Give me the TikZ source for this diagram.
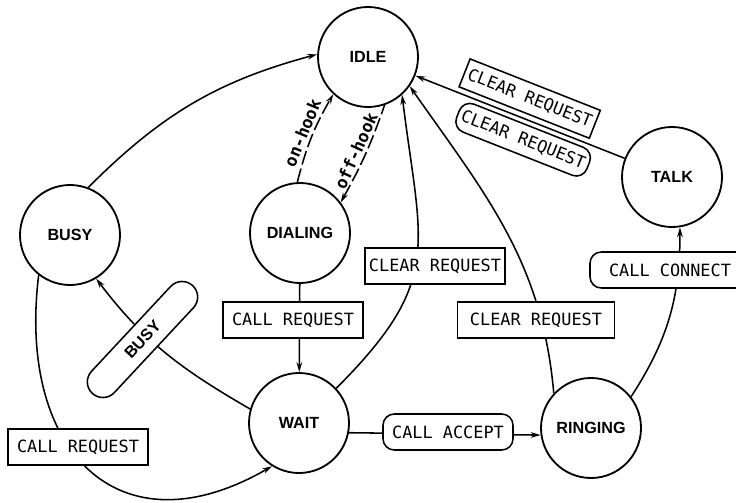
\documentclass[tikz,border=0pt]{standalone}
\usepackage{fontspec}
\setmainfont{Liberation Sans}
\setmonofont{DejaVu Sans Mono}
\usepackage{tikz}
\usetikzlibrary{arrows.meta}

\begin{document}
\begin{tikzpicture}[
    stnode/.style={draw, circle, line width=1.3pt, minimum size=2.5cm, font=\fontsize{11.5}{13}\selectfont\bfseries},
    lbl/.style={draw, fill=white, line width=1.1pt, minimum width=3.5cm, minimum height=0.9cm, inner sep=2pt, font=\fontsize{12}{14}\selectfont\ttfamily},
    rlbl/.style={lbl, rounded corners=8pt},
    conn/.style={line width=1.1pt, -{Stealth[length=7pt, width=4pt]}},
    rconn/.style={line width=1.1pt, {Stealth[length=7pt, width=4pt]}-},
    hooktext/.style={sloped, above=1pt, inner sep=1pt, font=\fontsize{12}{14}\selectfont\ttfamily\bfseries}
]
    \useasboundingbox (0,0) rectangle (18.4,12.55);
    \node[stnode] (idle) at (9.2,11.125) {IDLE};
    \node[stnode] (busy) at (1.75,6.675) {BUSY};
    \node[stnode] (dialing) at (7.5,6.725) {DIALING};
    \node[stnode] (talk) at (16.8,8.125) {TALK};
    \node[stnode] (wait) at (7.475,1.975) {WAIT};
    \node[stnode] (ringing) at (14.775,1.85) {RINGING};

    \draw[conn] (busy.69) to[out=45, in=195] (idle.177);
    \draw[conn, dash pattern=on 10pt off 3pt] (dialing.93) to[bend left=8] node[hooktext] {on-hook} (idle.227);
    \draw[rconn, dash pattern=on 10pt off 3pt] (dialing.37) to[bend right=5] node[hooktext] {off-hook} (idle.-71);
    \draw[conn] (dialing) -- (wait);
    \draw[conn] (wait.43) to[out=45, in=-83, looseness=1.3] (idle.-48);
    \draw[conn] (ringing.137) to[out=95, in=-55] (idle.-35);
    \draw[conn] (talk) -- node[lbl, sloped, above=3.5pt, pos=0.49, minimum height=0.75cm] (clup) {CLEAR REQUEST}
        node[rlbl, sloped, below=3pt, pos=0.45, minimum height=0.75cm] (cllow) {CLEAR REQUEST} (idle);
    \draw[conn] (wait.164) to[out=150, in=-53] (busy.-59);
    \draw[conn] (busy.232) to[out=-97, in=-150, looseness=1.5] (wait.238);
    \draw[conn] (wait.-11) -- (ringing.188);
    \draw[conn] (ringing.38) to[out=57, in=-90] (talk.-81);

    \node[lbl] (crdial) at (7.325,4.55) {CALL REQUEST};
    \node[lbl] (crbusy) at (1.95,1.375) {CALL REQUEST};
    \node[lbl] (clwait) at (10.875,5.9) {CLEAR REQUEST};
    \node[lbl, minimum width=3.925cm] (clring) at (13.4,4.55) {CLEAR REQUEST};
    \node[rlbl, minimum width=4cm] (ccon) at (16.75,5.8) {CALL CONNECT};
    \node[rlbl, minimum width=3.25cm] (cacc) at (11.2,1.75) {CALL ACCEPT};
    \node[lbl, rounded corners=0.39cm, rotate=47, minimum width=3.68cm, minimum height=0.78cm,
        font=\fontsize{11.5}{13}\selectfont\bfseries] (busylbl) at (3.5625,4.0625) {BUSY};
\end{tikzpicture}
\end{document}
